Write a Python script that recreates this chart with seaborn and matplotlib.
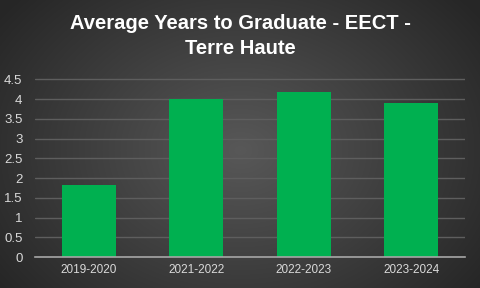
import numpy as np
import pandas as pd
import matplotlib
matplotlib.use("Agg")
import matplotlib.pyplot as plt
import seaborn as sns

categories = ["2019-2020", "2021-2022", "2022-2023", "2023-2024"]
values = [1.82, 4.0, 4.18, 3.9]
yticks = [0, 0.5, 1, 1.5, 2, 2.5, 3, 3.5, 4, 4.5]
title = "Average Years to Graduate - EECT -\nTerre Haute"

sns.set_theme(style="dark")
plt.rcParams['font.family'] = ['Liberation Sans', 'DejaVu Sans']

fig = plt.figure(figsize=(4.8, 2.88), dpi=100)

# radial gradient background
bg = fig.add_axes([0, 0, 1, 1], zorder=-10)
yy, xx = np.mgrid[0:288, 0:480]
cx, cy = 240, 150
r = np.sqrt(((xx - cx) / 300.0) ** 2 + ((yy - cy) / 230.0) ** 2)
r = np.clip(r, 0, 1)
c0 = np.array([0x58, 0x58, 0x58]) / 255.0
c1 = np.array([0x26, 0x26, 0x26]) / 255.0
img = c0[None, None, :] * (1 - r[..., None]) + c1[None, None, :] * r[..., None]
bg.imshow(img, aspect='auto', extent=[0, 1, 0, 1])
bg.set_axis_off()

ax = fig.add_axes([35 / 480, 1 - 257 / 288, 430 / 480, (257 - 70) / 288])
ax.patch.set_alpha(0)
df = pd.DataFrame({"cat": categories, "val": values})
sns.barplot(data=df, x="cat", y="val", ax=ax, color="#00B050", saturation=1,
            width=0.5, linewidth=0, edgecolor="none")

ax.set_ylim(0, 4.5 * 187 / (257 - 79.3))
ax.set_yticks(yticks)
ax.set_yticklabels([f"{t:g}" for t in yticks])
ax.set_xlabel("")
ax.set_ylabel("")
ax.grid(axis='y', color="#5e5e5e", linewidth=1)
ax.grid(axis='x', visible=False)
ax.set_axisbelow(True)
for s in ["top", "right", "left"]:
    ax.spines[s].set_visible(False)
ax.spines["bottom"].set_color("#a6a6a6")
ax.spines["bottom"].set_linewidth(1.2)
ax.tick_params(axis='x', colors="#d9d9d9", labelsize=8.5, length=0, pad=5)
ax.tick_params(axis='y', colors="#d9d9d9", labelsize=9.5, length=0, pad=9)
ax.set_xlim(-0.5, 3.5)

fig.text(0.5, 0.95, title, ha="center", va="top", color="white",
         fontsize=14.5, fontweight="bold", linespacing=1.35)

fig.savefig("out.png", dpi=100)
